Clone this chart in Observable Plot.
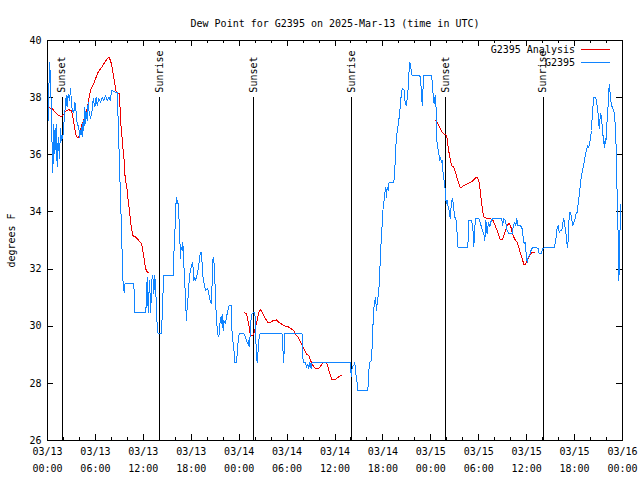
<!DOCTYPE html>
<html><head><meta charset="utf-8">
<script src="https://cdn.jsdelivr.net/npm/d3@7"></script>
<script src="https://cdn.jsdelivr.net/npm/@observablehq/plot@0.6"></script>
<style>
body{margin:0;background:#fff;}
#wrap{position:relative;width:640px;height:480px;font-family:"DejaVu Sans Mono",monospace;font-size:10px;color:#000;}
.lg{position:absolute;right:65px;text-align:right;white-space:pre;line-height:12px;}
.ls{position:absolute;left:581px;width:29px;height:0;}
</style></head><body><div id="wrap"></div>
<script>
const title = "Dew Point for G2395 on 2025-Mar-13 (time in UTC)";
const yLabel = "degrees F";
const seriesNames = ["G2395 Analysis", "G2395"];
const seriesColors = ["#ee0000", "#1084ff"];

// hours after 2025-03-13 00:00 UTC
const obsHours = [0,0.08,0.25,0.38,0.58,0.67,0.79,0.92,1.09,1.21,1.34,1.50,1.63,1.75,1.92,2.05,2.17,2.34,2.46,2.59,2.76,2.88,3.01,3.09,3.30,3.42,3.51,3.72,3.92,4.01,4.26,4.34,4.47,4.55,4.68,4.76,4.84,4.97,5.09,5.18,5.38,5.59,5.72,5.93,6.09,6.22,6.43,6.64,6.85,7.05,7.26,7.47,7.68,7.89,8.01,8.51,8.72,8.85,9.02,9.18,9.31,9.39,9.48,9.60,9.68,10.81,10.94,12.27,12.36,12.48,12.61,12.77,12.94,13.02,13.19,13.31,13.44,13.61,13.73,13.86,14.28,14.44,14.57,15.69,
15.74,15.82,15.94,16.03,16.15,16.24,16.32,16.40,16.53,16.65,16.74,16.86,16.95,17.07,17.20,17.32,17.41,17.49,17.61,17.74,17.82,17.99,18.16,18.24,18.32,18.45,18.57,18.74,18.91,19.08,19.24,19.37,19.49,19.70,19.83,19.99,20.12,20.24,20.41,20.54,20.66,20.74,20.87,20.99,21.12,21.29,21.45,21.66,21.79,21.87,22.00,22.08,22.29,22.41,22.58,22.75,23.00,23.12,23.25,23.37,23.46,23.67,23.75,23.88,24.00,24.58,24.79,24.92,25.09,25.17,25.25,25.34,25.42,25.59,25.92,26.00,26.09,26.17,26.25,26.34,26.46,26.59,29.39,29.51,29.59,29.68,31.89,32.01,32.31,32.43,32.60,32.72,32.85,33.02,33.14,37.94,38.03,38.15,38.36,38.48,38.61,38.69,38.86,
40.11,40.24,40.36,40.57,40.65,40.78,40.91,41.07,41.20,41.32,41.49,41.61,41.78,41.91,42.03,42.20,42.32,42.45,42.53,42.66,42.78,43.37,43.49,43.58,43.70,43.87,43.99,44.12,44.24,44.33,44.49,44.66,44.74,44.91,45.04,45.16,45.25,45.37,45.50,45.58,45.66,46.58,46.71,46.83,46.92,47.00,47.08,48.08,48.21,48.33,48.42,48.50,48.59,48.67,48.75,48.84,48.96,49.09,49.21,49.34,49.42,49.50,49.63,49.71,49.84,49.92,50.05,50.17,50.30,50.42,50.55,50.67,50.80,50.92,51.01,51.17,51.30,51.38,52.63,52.76,53.09,53.26,53.38,53.51,53.59,54.01,
54.35,54.47,54.64,54.76,54.89,55.05,55.22,55.39,55.56,55.72,56.89,56.97,57.14,57.35,57.48,57.56,57.77,58.19,58.31,58.48,58.64,58.77,58.89,59.23,59.44,59.56,59.69,59.81,59.94,60.06,60.19,60.36,60.48,60.61,60.73,61.32,61.44,61.57,61.86,61.98,62.15,63.49,63.61,63.74,63.82,63.95,64.07,64.24,64.40,64.53,64.65,64.78,64.91,64.99,65.11,65.20,65.32,65.41,65.53,65.66,65.78,65.91,66.03,66.16,66.32,66.45,66.57,66.70,66.83,66.95,67.08,67.20,67.37,67.49,67.62,67.74,67.87,67.99,68.12,68.24,68.33,68.41,68.62,68.75,68.83,68.95,69.08,69.16,69.25,69.37,69.50,69.62,69.75,69.83,69.91,70.00,70.12,70.25,70.33,70.42,70.50,70.58,70.71,70.92,71.00,71.12,71.21,71.29,71.38,71.46,71.50,71.54,71.63,71.71,71.79];
const obsValues = [37.67,37.20,39.24,38.72,36.27,35.39,37.08,36.03,37.08,35.57,36.62,35.86,36.91,36.50,36.62,37.08,37.49,38.07,37.67,38.13,37.90,38.31,37.84,37.55,37.49,37.84,37.72,37.08,36.97,36.62,36.97,36.62,37.20,36.85,37.67,37.08,37.49,37.20,37.84,37.55,37.26,37.55,37.96,37.67,38.02,37.72,37.96,37.84,38.02,37.90,38.07,37.90,38.02,37.90,38.25,38.19,38.19,37.20,35.57,34.17,33.00,31.83,31.48,31.19,31.48,31.48,30.49,30.49,30.72,31.72,30.49,31.60,30.49,31.60,31.77,31.13,31.77,30.90,30.02,29.73,29.73,31.02,31.77,31.77,
31.77,32.53,33.12,34.05,34.52,34.28,34.40,34.05,33.47,32.36,32.77,32.65,32.94,32.18,31.48,30.67,30.20,30.67,31.02,31.60,31.83,32.07,32.24,32.01,31.60,31.72,31.60,31.83,32.07,32.47,32.59,32.18,31.66,31.37,31.25,31.31,31.25,31.07,30.84,30.78,32.07,32.42,32.18,31.37,30.43,29.73,29.62,30.32,30.08,30.43,29.85,30.20,30.08,30.32,30.55,30.72,30.72,29.73,29.38,29.09,28.74,28.74,29.03,29.50,29.73,29.73,29.62,29.50,29.38,29.50,29.27,29.50,30.08,30.43,30.49,30.32,29.50,29.03,28.74,29.03,29.50,29.73,29.73,29.03,28.74,29.73,29.73,28.74,28.74,28.57,28.68,28.51,28.74,28.51,28.74,28.74,28.22,28.57,28.63,28.74,28.33,28.22,27.75,
27.75,28.45,28.74,28.80,29.27,30.20,30.78,31.02,30.55,30.90,31.25,31.95,33.00,33.58,34.17,34.52,34.87,34.52,34.87,34.75,35.04,35.04,35.45,36.15,36.62,36.97,37.20,37.55,37.90,38.25,38.31,38.25,37.90,37.72,37.96,38.31,38.83,39.24,39.07,38.83,38.77,38.77,38.72,38.13,37.72,38.13,38.77,38.77,38.48,37.90,37.78,38.02,38.07,37.55,36.50,36.27,36.15,35.80,35.92,35.74,35.80,35.45,35.22,34.87,34.81,34.28,34.40,34.17,34.05,33.76,34.22,34.46,34.34,33.99,33.82,33.70,33.23,32.77,32.77,33.70,33.70,33.47,32.77,33.47,33.76,33.76,
33.47,33.35,33.23,33.00,33.70,33.23,33.64,33.47,33.70,33.76,33.76,33.52,33.76,33.70,33.47,33.35,33.23,33.23,33.47,33.64,33.52,33.76,33.52,33.52,33.41,33.12,32.88,32.94,32.53,32.24,32.42,32.47,32.59,32.71,32.74,32.74,32.71,32.53,32.53,32.71,32.74,32.74,33.00,33.17,33.47,33.52,33.29,33.35,33.35,33.64,33.76,33.52,33.29,33.00,32.77,33.00,33.82,33.99,33.93,33.70,33.52,33.64,33.70,33.93,33.99,34.28,34.57,34.87,35.22,35.39,35.57,35.74,36.03,36.15,36.32,36.27,36.32,36.62,36.85,37.55,37.78,38.02,38.02,37.90,37.67,37.43,36.91,37.20,37.43,37.32,36.85,36.50,36.27,36.56,36.38,36.85,37.43,37.90,38.48,38.25,38.07,37.78,37.67,37.55,37.32,37.02,36.15,34.98,34.28,33.00,32.42,31.60,32.30,33.70,34.28];

// analysis, three separate runs
const anaHours1 = [0,0.58,1.00,1.42,1.75,2.05,2.34,2.67,3.01,3.21,3.38,3.59,3.72,3.92,4.05,4.26,4.47,4.68,4.97,5.18,5.38,5.68,6.01,6.34,6.64,6.93,7.26,7.56,7.76,8.01,8.22,8.43,8.60,8.85,9.02,9.14,9.27,9.43,9.60,9.68,9.85,9.98,10.10,10.27,10.39,10.52,10.69,11.02,11.44,11.77,11.94,12.06,12.19,12.36,12.52,12.69];
const anaValues1 = [37.67,37.61,37.49,37.37,37.34,37.43,37.55,37.58,37.53,37.26,36.97,36.67,36.62,36.62,36.79,37.02,37.14,37.37,37.61,37.96,38.25,38.42,38.66,38.89,39.01,39.12,39.28,39.39,39.39,39.18,38.83,38.48,38.19,38.16,38.13,37.20,36.85,36.27,35.80,35.33,34.98,34.75,34.40,34.05,33.70,33.41,33.17,33.12,33.00,32.88,32.65,32.42,32.18,31.95,31.89,31.89];
const anaHours2 = [24.67,24.92,25.09,25.25,25.42,25.63,25.84,26.05,26.25,26.46,26.67,26.88,27.09,27.30,27.59,27.92,28.26,28.68,28.97,29.39,29.80,30.22,30.51,30.85,31.10,31.35,31.60,31.89,32.10,32.43,32.72,32.93,33.14,33.35,33.60,33.85,34.10,34.39,34.60,34.81,35.02,35.23,35.44,35.65,35.94,36.27,36.61,36.86];
const anaValues2 = [30.47,30.43,30.20,29.97,29.67,29.67,29.73,29.97,30.20,30.49,30.57,30.49,30.37,30.26,30.14,30.14,30.20,30.22,30.14,30.06,29.99,29.97,29.91,29.85,29.71,29.62,29.48,29.32,29.21,29.03,28.97,28.80,28.68,28.57,28.51,28.51,28.57,28.68,28.74,28.74,28.68,28.45,28.27,28.12,28.12,28.19,28.26,28.26];
const anaHours3 = [48.63,49.00,49.42,49.63,49.88,50.05,50.17,50.34,50.46,50.59,50.88,51.09,51.30,51.51,51.72,52.13,52.55,52.97,53.30,53.59,53.80,54.01,54.14,54.22,54.35,54.47,54.64,55.06,55.47,55.81,55.97,56.22,56.52,56.72,56.93,57.14,57.35,57.56,57.77,57.98,58.19,58.39,58.60,58.81,59.02,59.23,59.44,59.65,59.86,60.06,60.27,60.48,60.69,60.98];
const anaValues3 = [37.20,37.02,36.79,36.73,36.71,36.56,36.27,35.97,35.80,35.62,35.57,35.39,35.16,34.98,34.84,34.92,34.98,35.04,35.10,35.19,35.22,35.10,34.87,34.63,34.34,34.05,33.82,33.76,33.76,33.70,33.58,33.41,33.17,33.02,33.02,33.17,33.35,33.52,33.61,33.52,33.29,33.12,33.00,32.94,32.77,32.53,32.36,32.16,32.16,32.30,32.42,32.53,32.59,32.59];

const eventTimes = ["2025-03-13T01:49Z","2025-03-13T14:01Z","2025-03-14T01:50Z","2025-03-14T14:03Z","2025-03-15T01:52Z","2025-03-15T14:03Z"];
const eventLabels = ["Sunset","Sunrise","Sunset","Sunrise","Sunset","Sunrise"];

const majorTickHours = [0,6,12,18,24,30,36,42,48,54,60,66,72];
const tickDateLabels = ["03/13","03/13","03/13","03/13","03/14","03/14","03/14","03/14","03/15","03/15","03/15","03/15","03/16"];
const tickTimeLabels = ["00:00","06:00","12:00","18:00","00:00","06:00","12:00","18:00","00:00","06:00","12:00","18:00","00:00"];
const minorTickHours = [2,4,8,10,14,16,20,22,26,28,32,34,38,40,44,46,50,52,56,58,62,64,68,70];
const yTicks = [26,28,30,32,34,36,38,40];
const eventLineTop = 38;

const t0 = Date.UTC(2025, 2, 13);
const toDate = h => new Date(t0 + h * 3600e3);
const obs = obsHours.map((h, i) => ({t: toDate(h), v: obsValues[i]}));
const ana = [[anaHours1, anaValues1], [anaHours2, anaValues2], [anaHours3, anaValues3]]
  .flatMap(([hs, vs], k) => hs.map((h, i) => ({t: toDate(h), v: vs[i], seg: k})));
const events = eventTimes.map((s, i) => ({t: new Date(s), label: eventLabels[i]}));
const majorDates = majorTickHours.map(toDate);
const minorDates = minorTickHours.map(toDate);
const idx = d => majorTickHours.indexOf(Math.round((d - t0) / 3600e3));

const W = 640, H = 480, mT = 40, mB = 40, mL = 47, mR = 18;
const fw = W - mL - mR, fh = H - mT - mB;
const majLen = 6, minLen = 3;

const chart = Plot.plot({
  width: W, height: H,
  marginTop: mT, marginBottom: mB, marginLeft: mL, marginRight: mR,
  style: {fontFamily: "DejaVu Sans Mono, monospace", fontSize: "10px", color: "#000", background: "#fff", overflow: "visible"},
  x: {type: "utc", domain: [toDate(0), toDate(72)]},
  y: {domain: [26, 40]},
  marks: [
    Plot.axisY({ticks: yTicks, tickSize: 0, tickPadding: 6, label: yLabel, labelAnchor: "center", labelOffset: 40, labelArrow: "none", fontSize: 10}),
    Plot.axisX({ticks: majorDates, tickSize: 0, tickPadding: 7, tickFormat: d => tickDateLabels[idx(d)], label: null}),
    Plot.axisX({ticks: majorDates, tickSize: 0, tickPadding: 24, tickFormat: d => tickTimeLabels[idx(d)], label: null}),
    // inward ticks
    Plot.ruleX(majorDates, {x: d => d, insetTop: fh - majLen, stroke: "#000", shapeRendering: "crispEdges"}),
    Plot.ruleX(majorDates, {x: d => d, insetBottom: fh - majLen, stroke: "#000", shapeRendering: "crispEdges"}),
    Plot.ruleX(minorDates, {x: d => d, insetTop: fh - minLen, stroke: "#000", shapeRendering: "crispEdges"}),
    Plot.ruleX(minorDates, {x: d => d, insetBottom: fh - minLen, stroke: "#000", shapeRendering: "crispEdges"}),
    Plot.ruleY(yTicks, {y: d => d, insetRight: fw - majLen, stroke: "#000", shapeRendering: "crispEdges"}),
    Plot.ruleY(yTicks, {y: d => d, insetLeft: fw - majLen, stroke: "#000", shapeRendering: "crispEdges"}),
    // sunrise / sunset
    Plot.ruleX(events, {x: "t", y1: 26, y2: eventLineTop, stroke: "#000", shapeRendering: "crispEdges"}),
    Plot.text(events, {x: "t", y: eventLineTop, text: "label", rotate: -90, textAnchor: "start", lineAnchor: "middle", dy: -5, fill: "#000"}),
    // series
    Plot.line(ana, {x: "t", y: "v", z: "seg", stroke: seriesColors[0], strokeWidth: 1, shapeRendering: "crispEdges"}),
    Plot.line(obs, {x: "t", y: "v", stroke: seriesColors[1], strokeWidth: 1, shapeRendering: "crispEdges"}),
    Plot.frame({stroke: "#000", shapeRendering: "crispEdges"}),
    Plot.text([title], {frameAnchor: "top", dy: -21, text: d => d, fill: "#000"})
  ]
});

const wrap = document.getElementById("wrap");
wrap.appendChild(chart);
seriesNames.forEach((name, i) => {
  const t = document.createElement("div");
  t.className = "lg";
  t.style.top = (44 + i * 13) + "px";
  t.textContent = name;
  wrap.appendChild(t);
  const l = document.createElement("div");
  l.className = "ls";
  l.style.top = (49 + i * 13) + "px";
  l.style.borderTop = "1px solid " + seriesColors[i];
  wrap.appendChild(l);
});
</script>
</body></html>
